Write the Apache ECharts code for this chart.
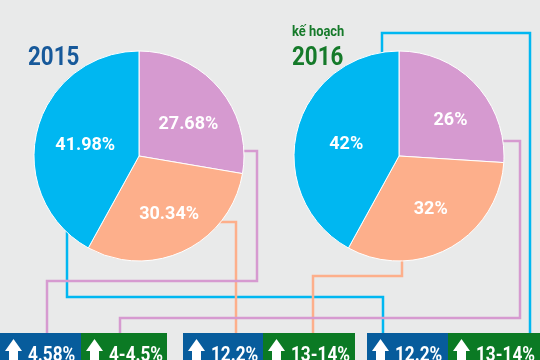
<!DOCTYPE html>
<html>
<head>
<meta charset="utf-8">
<script src="https://cdn.jsdelivr.net/npm/echarts@6/dist/echarts.min.js"></script>
<style>
html,body{margin:0;padding:0;background:#e9eaea;}
#c{width:540px;height:360px;}
</style>
</head>
<body>
<div id="c"></div>
<script>
// ---- data ----
const categories = ['Nhóm 1', 'Nhóm 2', 'Nhóm 3'];
const years = ['2015', '2016'];
const planLabel = 'kế hoạch';
const share2015 = [27.68, 30.34, 41.98];
const share2016 = [26, 32, 42];
const growth2015 = ['4.58%', '12.2%', '12.2%'];
const growth2016 = ['4-4.5%', '13-14%', '13-14%'];

// ---- styles ----
const FONT = "Roboto, 'DejaVu Sans Condensed', sans-serif";
const SQ = 0.86; // horizontal squeeze to imitate a condensed face
const sliceColors = ['#d69ad0', '#fdaf8b', '#00b7f1'];
const boxBlue = '#075c9c';
const boxGreen = '#0b7a24';
const labelOffsets = [
  [[7, 4], [6, 9], [0, 3]],
  [[11, 2], [5, 5], [1, 2]]
];

function pieSeries(idx, values, center) {
  return {
    type: 'pie',
    center: center,
    radius: 105,
    startAngle: 90,
    clockwise: true,
    silent: true,
    z: 3,
    data: values.map((v, i) => ({
      name: categories[i],
      value: v,
      itemStyle: { color: sliceColors[i] }
    })),
    itemStyle: { borderColor: '#ffffff', borderWidth: 1 },
    label: {
      show: true, position: 'inside', formatter: '{c}%',
      color: '#ffffff', fontSize: 18, fontWeight: 'bold', fontFamily: FONT
    },
    labelLine: { show: false },
    labelLayout: function (p) {
      const o = labelOffsets[idx][p.dataIndex];
      return { dx: o[0], dy: o[1] };
    },
    emphasis: { disabled: true }
  };
}

// connector lines (slice -> growth box)
const LW = 2.5;
function conn(points, color) {
  return { type: 'polyline', z: 1, shape: { points: points },
    style: { stroke: color, lineWidth: LW, fill: null, lineJoin: 'miter' } };
}
const connectors = [
  conn([[67, 228], [67, 297], [383, 297], [383, 334]], sliceColors[2]),
  conn([[382, 56], [382, 33], [530, 33], [530, 334]], sliceColors[2]),
  conn([[218, 222], [236, 222], [236, 334]], sliceColors[1]),
  conn([[402, 258], [402, 276], [313, 276], [313, 334]], sliceColors[1]),
  conn([[238, 151], [257, 151], [257, 281], [47, 281], [47, 334]], sliceColors[0]),
  conn([[500, 141], [520, 141], [520, 318], [120, 318], [120, 334]], sliceColors[0])
];

function txt(x, y, text, fill, size) {
  return { type: 'text', z: 6, x: x, y: y, scaleX: SQ, scaleY: 1,
    style: { text: text, fill: fill, font: 'bold ' + size + 'px ' + FONT,
      textAlign: 'left', textVerticalAlign: 'middle' } };
}

// growth boxes: [x0, x1, text, color]
const boxDefs = [
  [0, 81, growth2015[0], boxBlue],
  [81, 167, growth2016[0], boxGreen],
  [183, 263, growth2015[1], boxBlue],
  [263, 355, growth2016[1], boxGreen],
  [367, 448, growth2015[2], boxBlue],
  [448, 540, growth2016[2], boxGreen]
];
const boxes = [];
boxDefs.forEach(b => {
  const x0 = b[0];
  boxes.push({ type: 'rect', z: 5, shape: { x: x0, y: 333, width: b[1] - x0, height: 30 },
    style: { fill: b[3] } });
  boxes.push({ type: 'polygon', z: 6, shape: { points: [
      [x0 + 13.5, 339], [x0 + 22, 351], [x0 + 18, 351], [x0 + 18, 362],
      [x0 + 9, 362], [x0 + 9, 351], [x0 + 5, 351]] },
    style: { fill: '#ffffff' } });
  boxes.push(txt(x0 + 28, 356, b[2], '#ffffff', 20));
});

const titles = [
  txt(28, 58, years[0], '#17599a', 26),
  txt(292, 32, planLabel, '#157a2a', 15),
  txt(292, 58, years[1], '#157a2a', 26)
];

const chart = echarts.init(document.getElementById('c'), null, { renderer: 'canvas' });
chart.setOption({
  animation: false,
  backgroundColor: '#e9eaea',
  graphic: { elements: connectors.concat(boxes, titles) },
  series: [
    pieSeries(0, share2015, [139, 156]),
    pieSeries(1, share2016, [399, 156])
  ]
});
</script>
</body>
</html>
